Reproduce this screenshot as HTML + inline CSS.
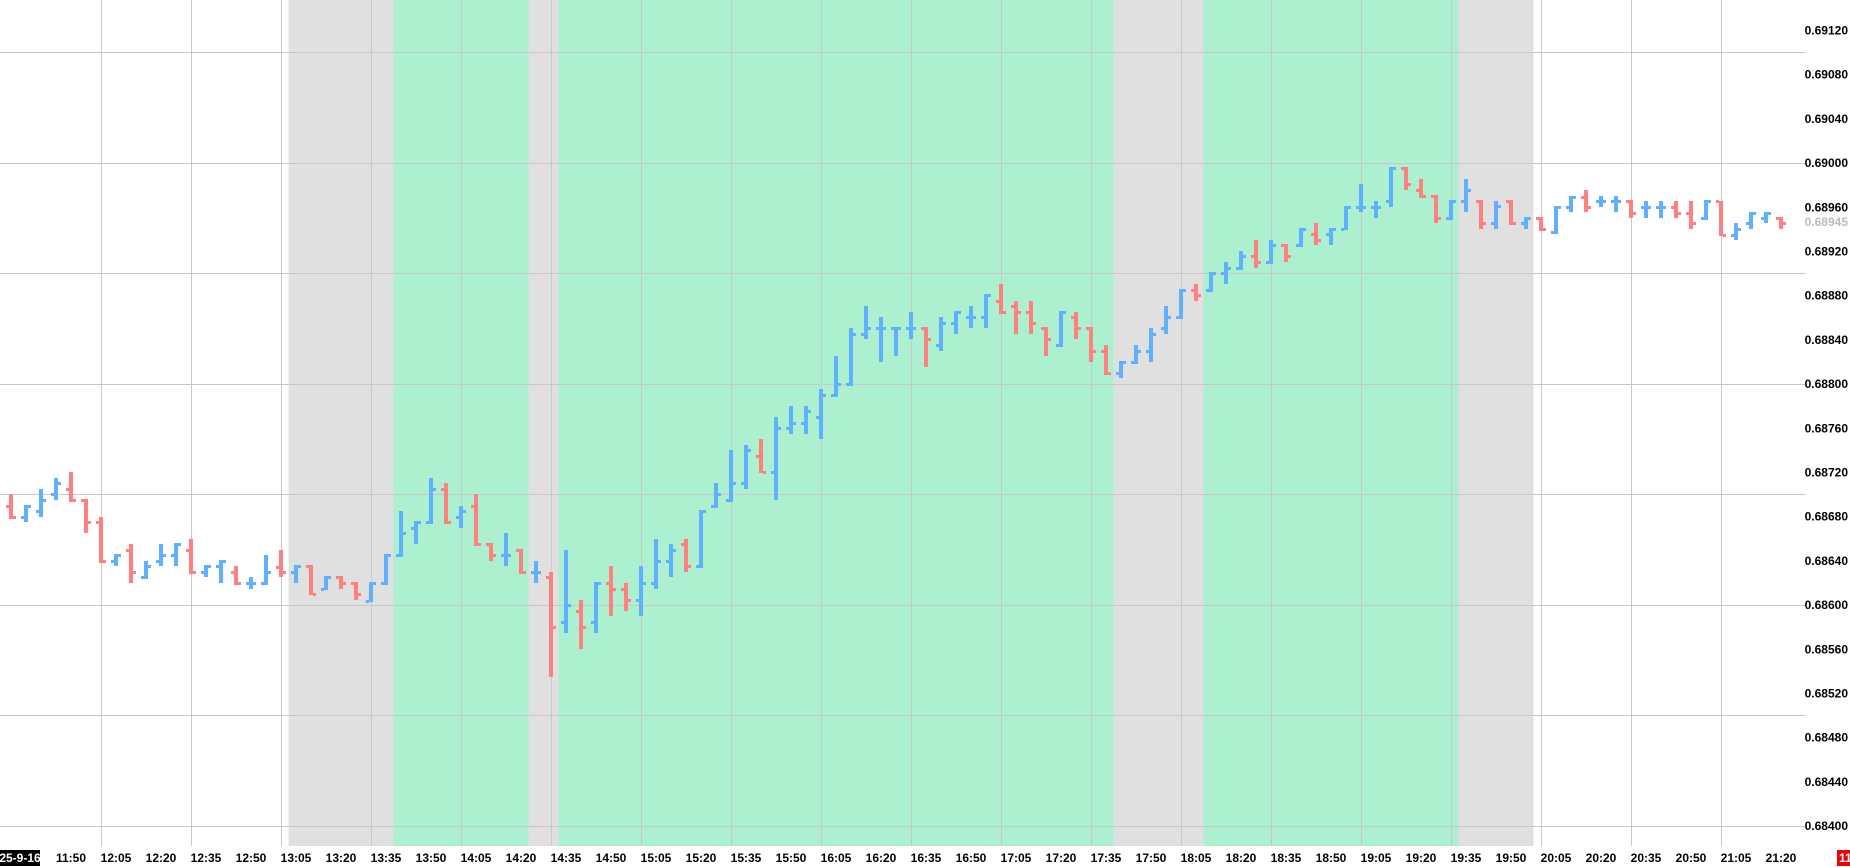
<!DOCTYPE html>
<html><head><meta charset="utf-8"><style>
html,body{margin:0;padding:0;background:#fff;}
svg{display:block;font-family:"Liberation Sans",sans-serif;}
</style></head><body>
<svg id="c" width="1850" height="867" xmlns="http://www.w3.org/2000/svg"></svg>
<script>
const D=[
[506,494,519,517],[517,505,522,506],[511,489,517,500],[494,478,500,483],[489,472,502,500],
[500,499,533,522],[522,517,563,561],[561,554,566,555],[550,544,583,572],[577,561,579,566],
[561,544,566,555],[555,543,566,544],[550,539,574,572],[572,565,577,566],[566,560,583,561],
[572,566,585,583],[583,577,589,583],[583,555,585,572],[567,550,577,572],[572,565,583,566],
[566,565,595,594],[589,576,590,577],[577,576,589,583],[583,582,600,594],[601,582,602,583],
[583,554,585,555],[555,511,557,533],[528,521,544,522],[522,478,524,489],[489,483,524,522],
[517,506,528,511],[506,494,546,544],[544,543,561,555],[555,533,566,555],[550,549,574,572],
[572,561,583,572],[577,572,677,627],[622,550,633,605],[611,600,649,627],[622,582,633,583],
[583,566,616,589],[589,583,611,600],[600,566,616,583],[583,539,589,561],[561,544,577,550],
[544,539,572,566],[566,510,568,511],[506,483,508,494],[500,450,502,483],[483,445,489,450],
[456,439,473,472],[472,417,500,428],[428,406,434,423],[423,406,434,411],[417,389,439,395],
[395,356,397,384],[384,328,386,334],[334,306,339,328],[328,317,362,328],[328,327,356,328],
[328,312,339,328],[328,327,367,339],[345,317,351,323],[323,311,334,312],[317,306,328,317],
[317,294,328,295],[301,284,314,312],[306,301,334,312],[312,301,334,323],[328,327,356,339],
[345,311,347,312],[317,312,339,328],[328,327,362,351],[351,345,375,373],[373,361,378,362],
[362,345,364,351],[351,328,362,334],[328,306,334,317],[317,289,319,290],[290,284,301,295],
[290,272,292,273],[273,262,284,268],[268,251,270,256],[256,240,268,262],[262,240,264,245],
[245,244,262,256],[245,228,247,229],[234,223,245,240],[234,228,245,229],[229,206,230,207],
[207,184,212,207],[207,201,218,207],[201,167,207,168],[168,167,190,184],[190,179,198,196],
[196,195,223,218],[218,200,220,201],[201,179,212,190],[201,200,229,223],[223,201,229,206],
[201,200,225,223],[223,217,229,218],[218,217,231,229],[232,206,234,207],[207,196,212,197],
[197,190,212,207],[201,196,207,201],[201,196,212,201],[201,200,218,213],[207,201,218,207],
[207,201,218,207],[207,201,218,213],[213,201,229,223],[218,200,220,201],[201,201,236,235],
[235,223,240,229],[223,212,229,213],[218,212,223,213],[218,217,229,223]];
let s='';
const W=1806,B=846;
// shading
const sh=[[288.5,393.5,'#e0e0e0'],[393.5,528.5,'#adf0d0'],[528.5,558.5,'#e0e0e0'],[558.5,1113.5,'#adf0d0'],[1113.5,1203.5,'#e0e0e0'],[1203.5,1458.5,'#adf0d0'],[1458.5,1533.5,'#e0e0e0']];
for(const[a,b,c]of sh)s+=`<rect x="${a}" y="0" width="${b-a}" height="${B}" fill="${c}"/>`;
// grid
for(let k=0;k<8;k++){const y=52+k*110.5;s+=`<rect x="0" y="${Math.round(y)}" width="${W}" height="1" fill="#c8c8c8"/>`;}
for(let x=101;x<W;x+=90)s+=`<rect x="${x}" y="0" width="1" height="${B}" fill="#c8c8c8"/>`;
// bars
D.forEach((d,i)=>{const x=11+15*i;const[o,h,l,c]=d;const col=(c>o)?'#ff8080':'#60b0ff';
const top=Math.min(h,l),bot=Math.max(h,l);
s+=`<rect x="${x-2}" y="${top}" width="4" height="${Math.max(bot-top,3)}" fill="${col}"/>`;
s+=`<rect x="${x-5}" y="${o-1}" width="3" height="3" fill="${col}"/>`;
s+=`<rect x="${x+2}" y="${c-1}" width="3" height="3" fill="${col}"/>`;});
// y labels
for(let k=0;k<19;k++){const p=0.6912-k*0.0004;const y=30+k*44.2;
s+=`<text x="1848" y="${(y+4.5).toFixed(1)}" text-anchor="end" font-size="12" font-weight="bold" fill="#000">${p.toFixed(5)}</text>`;}
s+=`<rect x="1808" y="214" width="42" height="15" fill="#fff"/><text x="1848" y="226" text-anchor="end" font-size="12" font-weight="bold" fill="#bbb">0.68945</text>`;
// x labels
for(let i=4;i<119;i+=3){const m=11*60+30+5*i;const hh=Math.floor(m/60),mm=m%60;const x=11+15*i;
s+=`<text x="${x}" y="862" text-anchor="middle" font-size="12" font-weight="bold" fill="#000">${hh}:${String(mm).padStart(2,'0')}</text>`;}
s+=`<rect x="0" y="850" width="40" height="16" fill="#000"/><text x="20" y="862" text-anchor="middle" font-size="12" font-weight="bold" fill="#fff">25-9-16</text>`;
s+=`<rect x="1837" y="850" width="13" height="16" fill="#e00"/><text x="1839" y="862" font-size="12" font-weight="bold" fill="#fff">11</text>`;
document.getElementById('c').innerHTML=s;
</script>
</body></html>
